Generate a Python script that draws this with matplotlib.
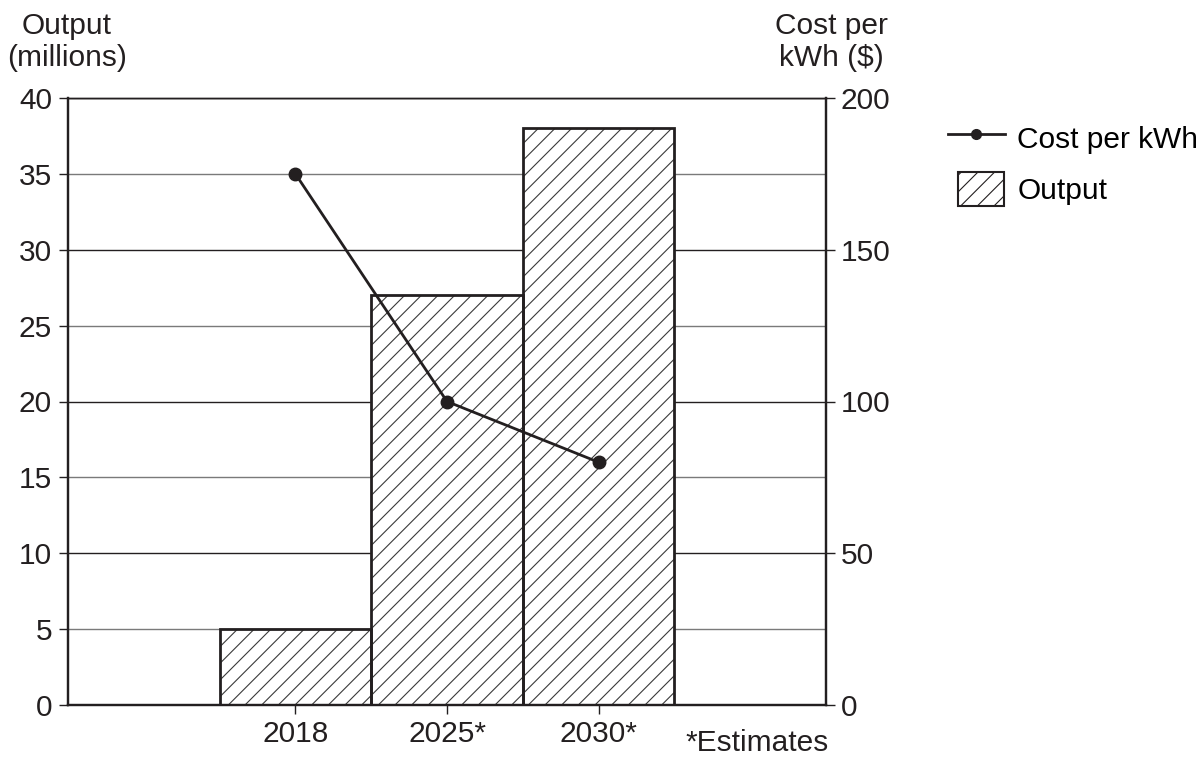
import numpy as np
import matplotlib
matplotlib.use('Agg')
from matplotlib import pyplot as plt
from matplotlib.lines import Line2D
from matplotlib.patches import Patch, Rectangle
from matplotlib.legend_handler import HandlerPatch

# data
years = ['2018', '2025*', '2030*']
output_millions = [5, 27, 38]
cost_per_kwh = [175, 100, 80]

left_ticks = [0, 5, 10, 15, 20, 25, 30, 35, 40]
right_ticks = [0, 50, 100, 150, 200]

DARK = '#231f20'
GREY = '#7a7a7a'
FS = 21.5


def legend_box(legend, orig_handle, xdescent, ydescent, width, height, fontsize):
    # narrower square-ish box, right aligned with the line handle
    return Rectangle((-xdescent + 0.17 * width, -ydescent), 0.82 * width, height)


def main():
    plt.rcParams['font.family'] = ['Liberation Sans', 'DejaVu Sans']
    plt.rcParams['font.size'] = FS
    plt.rcParams['hatch.linewidth'] = 0.8

    fig = plt.figure(figsize=(12.01, 7.58), dpi=100)
    ax = fig.add_axes([68 / 1201, 1 - 705 / 758, 758 / 1201, 607 / 758])

    x = np.arange(len(years))

    # gridlines, darker every 10
    for v in left_ticks:
        ax.axhline(v, color=DARK if v % 10 == 0 else GREY, lw=1.0, zorder=0)

    # hatch fill, then bold outline
    ax.bar(x, output_millions, width=1.0, color='white', edgecolor='#3a3a3a',
           hatch='//', linewidth=0, zorder=1)
    ax.bar(x, output_millions, width=1.0, fill=False, edgecolor=DARK,
           linewidth=2.0, zorder=2)

    ax.set_xlim(-1.5, 3.5)
    ax.set_ylim(0, 40)
    ax.set_yticks(left_ticks)
    ax.set_xticks(x)
    ax.set_xticklabels(years)

    ax2 = ax.twinx()
    ax2.plot(x, cost_per_kwh, color=DARK, lw=2.0, marker='o', markersize=9,
             zorder=3)
    ax2.set_ylim(0, 200)
    ax2.set_yticks(right_ticks)

    for a in (ax, ax2):
        for s in a.spines.values():
            s.set_color(DARK)
            s.set_linewidth(1.6)
        a.spines['top'].set_linewidth(1.0)
        a.tick_params(axis='both', direction='out', length=6.5, width=1.0,
                      color=DARK, labelcolor=DARK, pad=4)
    ax.tick_params(axis='y', pad=5)

    fig.text(67 / 1201, 1 - 72 / 758, 'Output\n(millions)', ha='center',
             va='bottom', multialignment='center', color=DARK, fontsize=FS)
    fig.text(831 / 1201, 1 - 72 / 758, 'Cost per\nkWh ($)', ha='center',
             va='bottom', multialignment='center', color=DARK, fontsize=FS)
    fig.text(829 / 1201, 1 - 757 / 758, '*Estimates', ha='right',
             va='bottom', color=DARK, fontsize=FS)

    handles = [Line2D([0], [0], color=DARK, lw=2.0, marker='o', markersize=7),
               Patch(facecolor='white', edgecolor=DARK, hatch='//', linewidth=1.5)]
    fig.legend(handles=handles, labels=['Cost per kWh', 'Output'],
               loc='upper left', bbox_to_anchor=(948 / 1201, 1 - 121 / 758),
               frameon=False, fontsize=FS, handlelength=1.9, handleheight=1.34,
               labelspacing=0.6, handletextpad=0.42, borderaxespad=0,
               borderpad=0,
               handler_map={Patch: HandlerPatch(patch_func=legend_box)})

    fig.savefig('out.png', dpi=100)


if __name__ == '__main__':
    main()
